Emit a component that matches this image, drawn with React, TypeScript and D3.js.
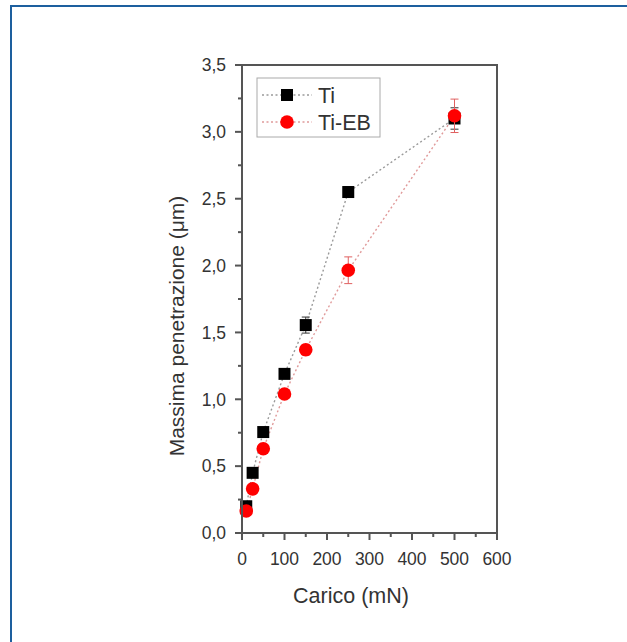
import React from "react";
import * as d3 from "d3";

const loads = [10, 25, 50, 100, 150, 250, 500];
const tiDepth = [0.2, 0.45, 0.755, 1.19, 1.555, 2.55, 3.1];
const tiErr = [0.02, 0.02, 0.03, 0.03, 0.06, 0.04, 0.08];
const ebDepth = [0.165, 0.33, 0.63, 1.04, 1.37, 1.965, 3.12];
const ebErr = [0.02, 0.02, 0.02, 0.03, 0.04, 0.1, 0.125];
const xTicks = [0, 100, 200, 300, 400, 500, 600];
const yTicks = [0, 0.5, 1.0, 1.5, 2.0, 2.5, 3.0, 3.5];
const seriesNames = ["Ti", "Ti-EB"];

export default function App() {
  const W = 627, H = 642;
  const x = d3.scaleLinear().domain([0, 600]).range([242, 497]);
  const y = d3.scaleLinear().domain([0, 3.5]).range([533, 65]);
  const fmt = (v: number) => d3.format(".1f")(v).replace(".", ",");
  const line = d3.line<[number, number]>().x(d => x(d[0])).y(d => y(d[1]));
  const tiPts = loads.map((l, i) => [l, tiDepth[i]] as [number, number]);
  const ebPts = loads.map((l, i) => [l, ebDepth[i]] as [number, number]);
  const xMinor = d3.range(50, 600, 100);
  const yMinor = d3.range(0.25, 3.5, 0.5);
  const axisColor = "#555";
  const font = "Arial, 'Liberation Sans', sans-serif";
  return (
    <svg width={W} height={H} style={{ position: "absolute", left: 0, top: 0 }} fontFamily={font}>
      <rect x={0} y={0} width={W} height={H} fill="#fff" />
      <rect x={11} y={6} width={800} height={800} fill="none" stroke="#1d5f9e" strokeWidth={2} />
      {/* lines */}
      <path d={line(tiPts) || ""} fill="none" stroke="#9a9a9a" strokeWidth={1.4} strokeDasharray="2,2.5" />
      <path d={line(ebPts) || ""} fill="none" stroke="#e09a9a" strokeWidth={1.4} strokeDasharray="2,2.5" />
      {/* error bars */}
      {loads.map((l, i) => (
        <g key={"te" + i} stroke="#333" strokeWidth={1}>
          <line x1={x(l)} x2={x(l)} y1={y(tiDepth[i] - tiErr[i])} y2={y(tiDepth[i] + tiErr[i])} />
          <line x1={x(l) - 4} x2={x(l) + 4} y1={y(tiDepth[i] - tiErr[i])} y2={y(tiDepth[i] - tiErr[i])} />
          <line x1={x(l) - 4} x2={x(l) + 4} y1={y(tiDepth[i] + tiErr[i])} y2={y(tiDepth[i] + tiErr[i])} />
        </g>
      ))}
      {loads.map((l, i) => (
        <rect key={"ts" + i} x={x(l) - 6} y={y(tiDepth[i]) - 6} width={12} height={12} fill="#000" />
      ))}
      {loads.map((l, i) => (
        <g key={"ee" + i} stroke="#e06060" strokeWidth={1}>
          <line x1={x(l)} x2={x(l)} y1={y(ebDepth[i] - ebErr[i])} y2={y(ebDepth[i] + ebErr[i])} />
          <line x1={x(l) - 4} x2={x(l) + 4} y1={y(ebDepth[i] - ebErr[i])} y2={y(ebDepth[i] - ebErr[i])} />
          <line x1={x(l) - 4} x2={x(l) + 4} y1={y(ebDepth[i] + ebErr[i])} y2={y(ebDepth[i] + ebErr[i])} />
        </g>
      ))}
      {loads.map((l, i) => (
        <circle key={"ec" + i} cx={x(l)} cy={y(ebDepth[i])} r={6.8} fill="#ff0000" />
      ))}
      {/* axes frame */}
      <rect x={242} y={65} width={255} height={468} fill="none" stroke={axisColor} strokeWidth={2} />
      {yTicks.map(t => (
        <g key={"yt" + t}>
          <line x1={235} x2={242} y1={y(t)} y2={y(t)} stroke={axisColor} strokeWidth={2} />
          <text x={226} y={y(t)} dy="0.36em" textAnchor="end" fontSize={17.5} fill="#333">{fmt(t)}</text>
        </g>
      ))}
      {yMinor.map(t => (
        <line key={"ym" + t} x1={238} x2={242} y1={y(t)} y2={y(t)} stroke={axisColor} strokeWidth={2} />
      ))}
      {xTicks.map(t => (
        <g key={"xt" + t}>
          <line x1={x(t)} x2={x(t)} y1={533} y2={540} stroke={axisColor} strokeWidth={2} />
          <text x={x(t)} y={564.5} textAnchor="middle" fontSize={17.5} fill="#333">{t}</text>
        </g>
      ))}
      {xMinor.map(t => (
        <line key={"xm" + t} x1={x(t)} x2={x(t)} y1={533} y2={537} stroke={axisColor} strokeWidth={2} />
      ))}
      <text x={351} y={603} textAnchor="middle" fontSize={21.5} fill="#333">Carico (mN)</text>
      <text transform="translate(184,326) rotate(-90)" textAnchor="middle" fontSize={21} fill="#333">
        Massima penetrazione (μm)
      </text>
      {/* legend */}
      <rect x={257} y={78} width={123} height={59} fill="#fff" stroke="#aaa" strokeWidth={1} />
      <line x1={262} x2={312} y1={95} y2={95} stroke="#9a9a9a" strokeWidth={1.4} strokeDasharray="2,2.5" />
      <rect x={281} y={89} width={12} height={12} fill="#000" />
      <text x={318} y={95} dy="0.36em" fontSize={21.5} fill="#333">{seriesNames[0]}</text>
      <line x1={262} x2={312} y1={122} y2={122} stroke="#e09a9a" strokeWidth={1.4} strokeDasharray="2,2.5" />
      <circle cx={287} cy={122} r={6.8} fill="#ff0000" />
      <text x={318} y={122} dy="0.36em" fontSize={21.5} fill="#333">{seriesNames[1]}</text>
    </svg>
  );
}
